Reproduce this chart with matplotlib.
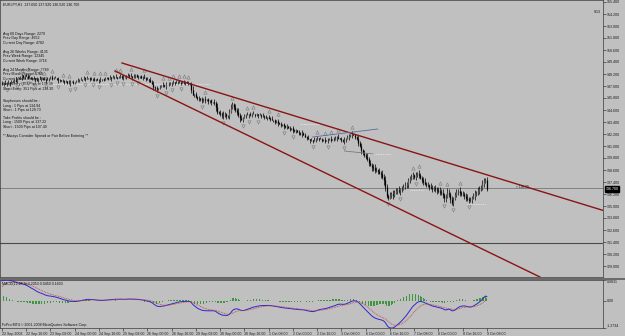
import numpy as np
import matplotlib
matplotlib.use("Agg")
import matplotlib.pyplot as plt
from matplotlib.transforms import blended_transform_factory

plt.rcParams['font.family'] = ['Liberation Sans', 'DejaVu Sans']

# hourly closes, EURJPY H1, 22 Sep 2008 00:00 -> 9 Oct 2008 08:00
closes = [
    147.20, 147.28, 147.15, 147.32, 147.40, 147.31, 147.45, 147.52, 147.60, 147.48,
    147.66, 147.74, 147.90, 148.05, 147.92, 148.10, 147.98, 147.85, 147.90, 147.80,
    147.76, 147.84, 147.70, 147.62, 147.75, 147.68, 147.80, 147.72, 147.65, 147.58,
    147.70, 147.78, 147.86, 147.74, 147.82, 147.76, 147.69, 147.60, 147.55, 147.48,
    147.52, 147.40, 147.46, 147.35, 147.30, 147.42, 147.38, 147.33, 147.45, 147.52,
    147.60, 147.55, 147.66, 147.72, 147.80, 147.74, 147.85, 147.78, 147.70, 147.65,
    147.72, 147.60, 147.66, 147.55, 147.62, 147.58, 147.70, 147.64, 147.76, 147.82,
    147.75, 147.88, 147.80, 147.92, 147.86, 147.95, 147.84, 147.90, 147.98, 147.88,
    147.94, 147.86, 148.00, 148.08, 147.96, 148.04, 147.92, 147.98, 148.06, 147.94,
    147.88, 147.96, 147.85, 147.90, 147.78, 147.70, 147.74, 147.62, 147.45, 147.25,
    146.95, 146.80, 146.70, 146.85, 146.92, 147.05, 147.12, 147.02, 147.18, 147.25,
    147.20, 147.32, 147.28, 147.36, 147.30, 147.42, 147.38, 147.45, 147.35, 147.40,
    147.32, 147.40, 147.28, 147.35, 147.22, 146.60, 146.05, 146.15, 145.90, 145.78,
    145.85, 145.70, 145.62, 145.74, 145.58, 145.66, 145.50, 145.55, 145.42, 145.38,
    145.30, 144.90, 144.45, 144.30, 144.20, 144.12, 144.05, 144.15, 143.98, 144.02,
    144.40, 144.85, 145.20, 144.95, 144.60, 144.40, 144.10, 143.80, 143.65, 143.85,
    143.98, 144.10, 144.05, 144.18, 144.12, 144.22, 144.15, 144.08, 144.16, 144.05,
    144.12, 143.98, 144.02, 143.90, 143.84, 143.92, 143.78, 143.70, 143.62, 143.55,
    143.40, 143.48, 143.30, 143.22, 143.10, 143.16, 143.00, 142.92, 142.98, 142.85,
    142.70, 142.76, 142.58, 142.50, 142.55, 142.40, 142.32, 142.22, 142.28, 142.10,
    141.95, 141.78, 141.70, 141.62, 141.55, 141.48, 141.60, 141.70, 141.82, 141.75,
    141.66, 141.58, 141.62, 141.50, 141.58, 141.65, 141.72, 141.60, 141.68, 141.74,
    141.82, 141.90, 141.85, 141.70, 141.58, 141.48, 141.60, 141.75, 141.88, 142.00,
    142.12, 142.20, 142.05, 141.92, 141.70, 141.30, 141.00, 140.60, 140.35, 140.10,
    139.95, 139.70, 139.35, 139.15, 138.90, 138.80, 138.65, 138.55, 138.48, 138.35,
    138.20, 137.95, 137.60, 136.90, 136.00, 135.85, 136.05, 136.20, 136.10, 136.35,
    136.52, 136.60, 136.48, 136.66, 136.75, 136.90, 137.05, 137.20, 137.55, 137.80,
    137.95, 138.05, 137.92, 138.10, 138.22, 138.05, 137.85, 137.62, 137.45, 137.25,
    137.15, 137.05, 136.92, 136.85, 136.72, 136.80, 136.68, 136.60, 136.52, 136.45,
    136.30, 136.10, 135.80, 135.95, 136.35, 136.20, 135.70, 135.30, 135.75, 136.05,
    136.40, 136.50, 136.35, 136.25, 136.18, 136.00, 135.85, 135.72, 135.55, 135.62,
    135.85, 136.00, 136.20, 136.35, 136.50, 136.70, 136.85, 137.25, 137.50, 137.65,
    136.70,
]
first_open = 147.30

# wick lengths per bar, in units of 0.09 yen
up_wick = ("21312021130212101320" "12021310212013120211" "21103212012130212012"
           "12021301211202130121" "20121302112021312032" "31202131202113021201"
           "21120241312021302120" "32413243213421324231" "21302131202131202130"
           "21312021302131202131" "21302131202213021302" "21302131221302142313"
           "24232343242534324243" "32423342323423243234" "23243232343423542324"
           "32423234232342433432" "3")
dn_wick = ("12021310212013120211" "21312021130212101320" "12021301211202130121"
           "21103212012130212012" "31202131202113021201" "42312021302131202131"
           "12021302123242313231" "24312342323124232413" "12031202130212031202"
           "21302131202131202130" "12031202130212031202" "13202132131302131432"
           "32424342324354232342" "23243223432324232342" "32423234242354234232"
           "23432342323242332342" "2")
wick_unit = 0.09

date_labels = ["22 Sep 2008", "22 Sep 16:00", "23 Sep 08:00", "24 Sep 00:00", "24 Sep 16:00",
               "25 Sep 08:00", "26 Sep 00:00", "26 Sep 16:00", "29 Sep 08:00", "30 Sep 00:00",
               "30 Sep 16:00", "1 Oct 08:00", "2 Oct 00:00", "2 Oct 16:00", "3 Oct 08:00",
               "6 Oct 00:00", "6 Oct 16:00", "7 Oct 08:00", "8 Oct 00:00", "8 Oct 16:00",
               "9 Oct 08:00"]
bars_per_label = 16

price_ticks = [155.4, 154.2, 153.0, 151.8, 150.6, 149.4, 148.2, 147.0, 145.8, 144.6, 143.4,
               142.2, 141.0, 139.8, 138.6, 137.4, 136.2, 135.0, 133.8, 132.6, 131.4, 130.2, 129.0]
price_range = (127.90, 155.60)
bars_range = (-1.32, 396.7)

# chart objects (bar index, price)
upper_trend = [(79.2, 149.30), (398.0, 134.50)]
lower_trend = [(74.6, 148.50), (355.1, 127.90)]
flag_top = [(205, 141.90), (248, 142.70)]
flag_bottom = [(226, 140.50), (245, 140.20)]
bid_price = 136.70
hline_price = 131.30
dot_starts = [0, 197, 236, 269, 307]
dot_ends = [137, 211, 257, 278, 319]
dot_prices = [147.20, 143.20, 140.20, 136.60, 135.20]

# EMA state carried in from before the visible window
ema_fast_seed = 145.80
ema_slow_seed = 144.90
signal_seed = 0.60

notes = ["Avg 60 Days Range: 2279", "Prev Day Range: 4652", "Current Day Range: 4782",
         "Avg 26 Weeks Range: 4135", "Prev Week Range: 12345", "Current Week Range: 3716",
         "Avg 24 Months Range: 7789", "Prev Month Range: 5765", "Current Month Range: 1825",
         "Long Entry: 353 Pips at 139.38", "Short Entry: 351 Pips at 133.30",
         "Stoplosses should be :", "Long : 1 Pips at 134.94", "Short : 1 Pips at 129.73",
         "Take Profits should be :", "Long : 1509 Pips at 137.22", "Short : 1509 Pips at 107.40",
         "** Always Consider Spread or Pair Before Entering **"]
notes_y = [34, 38.5, 43, 52, 56.5, 61, 70, 74.5, 79, 84, 88.5, 101, 105.5, 110, 118, 122.5, 127, 136]


def ema(values, period, seed):
    k = 2.0 / (period + 1)
    out = []
    prev = seed
    for v in values:
        prev = prev + k * (v - prev)
        out.append(prev)
    return np.array(out)


W, H = 625, 336
BG = "#C0C0C0"
FS = 2.6

c = np.array(closes)
n = len(c)
x = np.arange(n)
opens = np.array([first_open] + closes[:-1])
up = np.array([int(d) for d in up_wick]) * wick_unit
dn = np.array([int(d) for d in dn_wick]) * wick_unit
highs = np.maximum(opens, c) + up
lows = np.minimum(opens, c) - dn

macd = ema(c, 12, ema_fast_seed) - ema(c, 26, ema_slow_seed)
signal = ema(macd, 9, signal_seed)
hist = macd - signal

fig = plt.figure(figsize=(W / 100, H / 100), dpi=100, facecolor=BG)


def px_box(x0, y0, x1, y1):
    return [x0 / W, 1 - y1 / H, (x1 - x0) / W, (y1 - y0) / H]


ax = fig.add_axes(px_box(0, 0, 603, 277))
ax2 = fig.add_axes(px_box(0, 280, 603, 328))
for a in (ax, ax2):
    a.set_facecolor(BG)
    a.set_xlim(*bars_range)
    for s in a.spines.values():
        s.set_color("#3A3A3A")
        s.set_linewidth(0.5)
    a.yaxis.tick_right()
    a.tick_params(axis='y', labelsize=FS, length=2, width=0.4, pad=1, colors="#1A1A1A")

# main window
ax.set_ylim(*price_range)
ax.set_yticks(price_ticks)
ax.set_yticklabels([f"{p:.3f}" for p in price_ticks])
ax.set_xticks([])

ax.hlines(dot_prices, dot_starts, dot_ends, colors="white", linestyles=(0, (1, 1.5)), lw=0.5, zorder=1)
ax.axhline(hline_price, color="#4A4A4A", lw=0.8, zorder=1)
ax.axhline(bid_price, color="#707070", lw=1.1, zorder=1)
ax.axhline(bid_price, color="#F4F4F4", lw=0.4, zorder=1)

ax.vlines(x, lows, highs, color="black", lw=0.5, zorder=3)
bull = c >= opens
ax.vlines(x[bull], opens[bull], c[bull], color="#5A5A5A", lw=0.9, zorder=4)
ax.vlines(x[~bull], opens[~bull], c[~bull], color="black", lw=0.9, zorder=4)

# Bill Williams fractals
f_up = [i for i in range(2, n - 2) if highs[i] > max(highs[i - 2], highs[i - 1], highs[i + 1], highs[i + 2])]
f_dn = [i for i in range(2, n - 2) if lows[i] < min(lows[i - 2], lows[i - 1], lows[i + 1], lows[i + 2])]
ax.plot(f_up, highs[f_up] + 0.4, ls="none", marker="^", ms=2.4, mfc="none", mec="#7A7A7A", mew=0.4, zorder=5)
ax.plot(f_dn, lows[f_dn] - 0.4, ls="none", marker="v", ms=2.4, mfc="none", mec="#7A7A7A", mew=0.4, zorder=5)

for line, col, lw in [(upper_trend, "#8A1414", 1.0), (lower_trend, "#8A1414", 1.0),
                      (flag_top, "#5A6C98", 0.6), (flag_bottom, "#7A7A7A", 0.6)]:
    ax.plot([line[0][0], line[1][0]], [line[0][1], line[1][1]], color=col, lw=lw, zorder=6)

tr = blended_transform_factory(ax.transAxes, ax.transData)
ax.text(1.004, bid_price, f"{bid_price:.3f}", transform=tr, fontsize=FS, color="white",
        va="center", ha="left", bbox=dict(fc="black", ec="black", pad=0.5), zorder=10, clip_on=False)
ax.text(339, bid_price + 0.05, f"< {bid_price:.2f}", fontsize=2.3, color="#202020",
        va="bottom", ha="left", zorder=7)

# MACD window
lo = min(macd.min(), signal.min(), hist.min())
hi = max(macd.max(), signal.max(), hist.max())
ax2.set_ylim(lo, hi)
ax2.bar(x, hist, width=0.5, color="#3E963E", zorder=2)
ax2.plot(x, macd, color="#2A2ACC", lw=0.7, zorder=3)
ax2.plot(x, signal, color="#CC3A3A", lw=0.6, ls=(0, (1, 1)), zorder=3)
ax2.set_yticks([lo, 0, hi])
ax2.set_yticklabels([f"{lo:.4f}", "0.00", f"{hi:.4f}"])
yl = ax2.get_yticklabels()
yl[0].set_va("bottom")
yl[2].set_va("top")
ax2.set_xticks(range(0, n, bars_per_label))
ax2.set_xticklabels(date_labels, ha="left")
ax2.tick_params(axis='x', labelsize=FS, length=2, width=0.4, pad=0.8, colors="#1A1A1A")
ax2.text(0.004, 0.95, f"MACD(12,26,9) {macd[-1]:.4f} {signal[-1]:.4f} {hist[-1]:.4f}",
         transform=ax2.transAxes, fontsize=FS, va="top", ha="left", color="#101010")
ax2.text(0.004, 0.03, "FxPro MT4 \u00a9 2001-2008 MetaQuotes Software Corp.",
         transform=ax2.transAxes, fontsize=FS, va="bottom", ha="left", color="#101010")

# window separator
fig.add_artist(plt.Line2D([0, 1], [1 - 278.5 / H] * 2, transform=fig.transFigure, color="#5A5A5A", lw=1.2))

# header and notes
fig.text(3 / W, 1 - 5 / H, f"EURJPY,H1  {opens[-1]:.3f} {highs[-1]:.3f} {lows[-1]:.3f} {c[-1]:.3f}",
         fontsize=FS, va="center", ha="left", color="#101010")
fig.text(601 / W, 1 - 12 / H, "9:13", fontsize=FS, va="center", ha="right", color="#101010")
for s, yy in zip(notes, notes_y):
    fig.text(3 / W, 1 - yy / H, s, fontsize=FS, va="center", ha="left", color="#101010")

fig.savefig("out.png", dpi=100, facecolor=BG)
